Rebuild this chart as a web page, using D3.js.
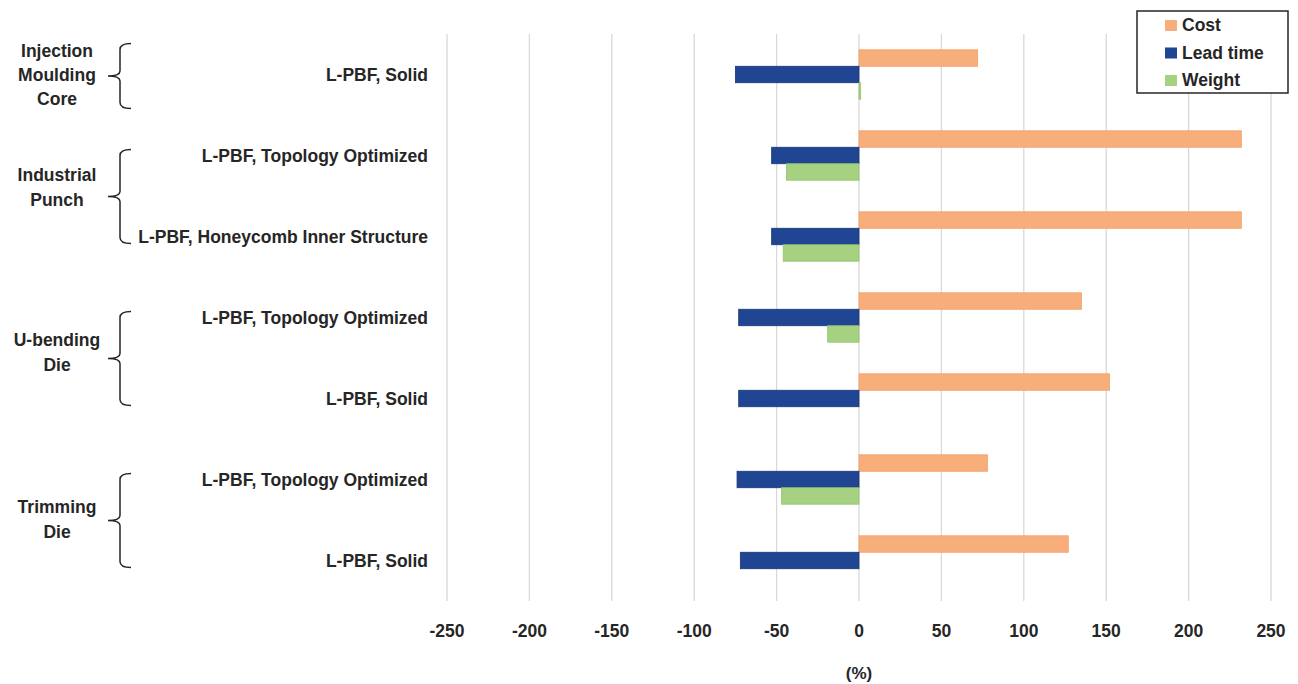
<!DOCTYPE html>
<html>
<head>
<meta charset="utf-8">
<script src="https://cdn.jsdelivr.net/npm/d3@7"></script>
<style>
  html, body { margin: 0; padding: 0; background: #fff; }
  svg text { font-family: "Liberation Sans", Arial, sans-serif; font-weight: bold; fill: #262626; }
</style>
</head>
<body>
<svg id="chart" width="1298" height="684"></svg>
<script>
// Rows (top to bottom) and their part groups
const rows = [
  "L-PBF, Solid",
  "L-PBF, Topology Optimized",
  "L-PBF, Honeycomb Inner Structure",
  "L-PBF, Topology Optimized ",
  "L-PBF, Solid ",
  "L-PBF, Topology Optimized  ",
  "L-PBF, Solid  "
];
const groupNames = [
  ["Injection", "Moulding", "Core"],
  ["Industrial", "Punch"],
  ["U-bending", "Die"],
  ["Trimming", "Die"]
];
const groupFirstRow = [0, 1, 3, 5];
const groupLastRow = [0, 2, 4, 6];
const seriesNames = ["Cost", "Lead time", "Weight"];
const costValues = [72, 232, 232, 135, 152, 78, 127];
const leadTimeValues = [-75, -53, -53, -73, -73, -74, -72];
const weightValues = [1, -44, -46, -19, 0, -47, 0];
const xTicks = [-250, -200, -150, -100, -50, 0, 50, 100, 150, 200, 250];

const colors = ["#F7AE7B", "#1F4593", "#A5D180"];
const strokes = ["#F3A06A", "#17377A", "#93C46E"];

const svg = d3.select("#chart");
const plot = { left: 447, right: 1271, top: 34, bottom: 601 };

const x = d3.scaleLinear().domain([-250, 250]).range([plot.left, plot.right]);
const y = d3.scaleBand().domain(rows).range([plot.top, plot.bottom]).paddingInner(0.39).paddingOuter(0.195);
const ySub = d3.scaleBand().domain(seriesNames).range([0, y.bandwidth()]);
const rowMid = r => y(r) + y.bandwidth() / 2;

// vertical gridlines
svg.append("g").selectAll("line").data(xTicks).join("line")
  .attr("x1", d => x(d)).attr("x2", d => x(d))
  .attr("y1", plot.top).attr("y2", plot.bottom)
  .attr("stroke", "#D9D9D9").attr("stroke-width", 1.3);

// tick labels
svg.append("g").selectAll("text").data(xTicks).join("text")
  .attr("x", d => x(d)).attr("y", 637)
  .attr("text-anchor", "middle").attr("font-size", 17.5)
  .text(d => d);

svg.append("text").attr("x", x(0)).attr("y", 679)
  .attr("text-anchor", "middle").attr("font-size", 17).text("(%)");

// bars
const data = [];
rows.forEach((r, i) => {
  [costValues, leadTimeValues, weightValues].forEach((vals, s) => {
    data.push({ row: r, s, v: vals[i] });
  });
});
svg.append("g").selectAll("rect").data(data.filter(d => d.v !== 0)).join("rect")
  .attr("x", d => x(Math.min(0, d.v)))
  .attr("width", d => Math.max(1, Math.abs(x(d.v) - x(0))))
  .attr("y", d => y(d.row) + ySub(seriesNames[d.s]))
  .attr("height", ySub.bandwidth())
  .attr("fill", d => colors[d.s])
  .attr("stroke", d => strokes[d.s]).attr("stroke-width", 0.8);

// row labels
svg.append("g").selectAll("text").data(rows).join("text")
  .attr("x", 428)
  .attr("y", d => rowMid(d) + 6)
  .attr("text-anchor", "end").attr("font-size", 17.5)
  .text(d => d.trim());

// group braces and names
const textShift = [-1.5, -9.5, -6, -1.5];
groupNames.forEach((lines, gi) => {
  const c1 = rowMid(rows[groupFirstRow[gi]]);
  const c2 = rowMid(rows[groupLastRow[gi]]);
  const single = groupFirstRow[gi] === groupLastRow[gi];
  const yTop = single ? c1 - 31 : c1 - 6;
  const yBot = single ? c2 + 34 : c2 + 7;
  const yMid = (yTop + yBot) / 2;
  const bx = 120;
  const path = d3.path();
  path.moveTo(bx + 11, yTop);
  path.quadraticCurveTo(bx, yTop, bx, yTop + 6);
  path.lineTo(bx, yMid - 5);
  path.quadraticCurveTo(bx, yMid, bx - 12, yMid);
  path.quadraticCurveTo(bx, yMid, bx, yMid + 5);
  path.lineTo(bx, yBot - 6);
  path.quadraticCurveTo(bx, yBot, bx + 11, yBot);
  svg.append("path").attr("d", path.toString())
    .attr("fill", "none").attr("stroke", "#262626").attr("stroke-width", 1.5);

  const lh = lines.length === 3 ? 24 : 25;
  const blockMid = yMid + textShift[gi];
  lines.forEach((t, k) => {
    svg.append("text").attr("x", 57)
      .attr("y", blockMid + (k - (lines.length - 1) / 2) * lh + 6)
      .attr("text-anchor", "middle").attr("font-size", 17.5).text(t);
  });
});

// legend
const lg = svg.append("g");
lg.append("rect").attr("x", 1137).attr("y", 11).attr("width", 151).attr("height", 82)
  .attr("fill", "#fff").attr("stroke", "#262626").attr("stroke-width", 1.5);
seriesNames.forEach((n, i) => {
  const cy = 25 + i * 27.5;
  lg.append("rect").attr("x", 1165).attr("y", cy - 5).attr("width", 12).attr("height", 11)
    .attr("fill", colors[i]);
  lg.append("text").attr("x", 1182).attr("y", cy + 6).attr("font-size", 17.5).text(n);
});
</script>
</body>
</html>
